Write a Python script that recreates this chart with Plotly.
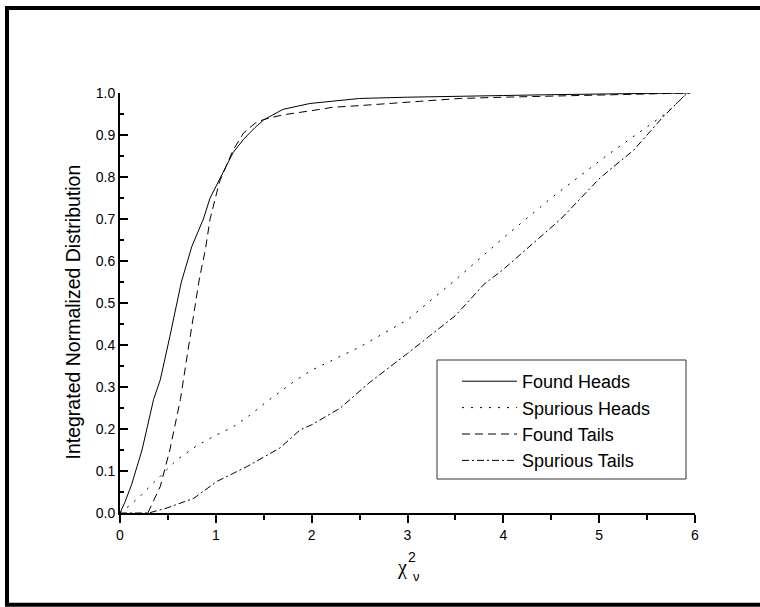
import plotly.graph_objects as go

# Integrated normalized distributions of reduced chi-square
found_heads_x = [0, 0.05, 0.12, 0.23, 0.35, 0.42, 0.52, 0.64, 0.75, 0.87, 0.94, 1.08, 1.18,
                 1.29, 1.41, 1.5, 1.7, 1.98, 2.2, 2.5, 3.0, 3.55, 4.0, 4.5, 5.0, 5.5, 5.95]
found_heads_y = [0, 0.025, 0.067, 0.15, 0.27, 0.317, 0.42, 0.55, 0.635, 0.70, 0.75, 0.815, 0.858,
                 0.89, 0.918, 0.936, 0.961, 0.975, 0.98, 0.987, 0.99, 0.993, 0.994, 0.996, 0.998, 0.999, 1.0]

spurious_heads_x = [0, 0.09, 0.21, 0.365, 0.59, 0.8, 1.0, 1.18, 1.35, 1.53, 1.84, 2.0, 2.5, 3.0,
                    3.5, 4.0, 4.5, 5.06, 5.43, 5.70, 5.92]
spurious_heads_y = [0, 0.016, 0.04, 0.075, 0.126, 0.16, 0.185, 0.205, 0.232, 0.265, 0.317, 0.34,
                    0.395, 0.46, 0.555, 0.655, 0.75, 0.848, 0.908, 0.952, 1.0]

found_tails_x = [0.29, 0.35, 0.42, 0.52, 0.63, 0.71, 0.83, 0.89, 0.94, 1.04, 1.18, 1.29, 1.41, 1.5,
                 1.7, 2.0, 2.22, 2.5, 2.92, 3.55, 4.0, 4.5, 5.0, 5.5, 5.95]
found_tails_y = [0.0, 0.03, 0.063, 0.15, 0.27, 0.388, 0.56, 0.626, 0.70, 0.79, 0.864, 0.905, 0.928,
                 0.937, 0.948, 0.958, 0.966, 0.97, 0.977, 0.987, 0.99, 0.993, 0.996, 0.998, 1.0]

spurious_tails_x = [0, 0.3, 0.49, 0.77, 1.01, 1.32, 1.67, 1.88, 2.0, 2.3, 2.6, 3.0, 3.5, 3.8, 4.0,
                    4.3, 4.6, 5.01, 5.36, 5.67, 5.92]
spurious_tails_y = [0, 0.0, 0.012, 0.035, 0.075, 0.11, 0.155, 0.198, 0.21, 0.25, 0.31, 0.38, 0.47,
                    0.545, 0.58, 0.64, 0.70, 0.798, 0.864, 0.944, 1.0]

x_ticks = [0, 1, 2, 3, 4, 5, 6]
y_ticks = [0.0, 0.1, 0.2, 0.3, 0.4, 0.5, 0.6, 0.7, 0.8, 0.9, 1.0]

FONT = "Liberation Sans, Arial, sans-serif"

series = [
    ("Found Heads", found_heads_x, found_heads_y, "solid"),
    ("Spurious Heads", spurious_heads_x, spurious_heads_y, "2px,7px"),
    ("Found Tails", found_tails_x, found_tails_y, "8px,5px"),
    ("Spurious Tails", spurious_tails_x, spurious_tails_y, "7px,3px,2px,3px"),
]

fig = go.Figure()
for name, xs, ys, dash in series:
    fig.add_trace(go.Scatter(x=xs, y=ys, mode="lines", name=name,
                             line=dict(color="black", width=1, dash=dash)))

# plot area in pixels: x 120..695, y 93..513
L, R, T, B = 120, 695, 93, 513
W, H = 760, 607


def px(xp):
    return (xp - L) / (R - L)


def py(yp):
    return (B - yp) / (B - T)


fig.update_layout(
    width=W, height=H,
    margin=dict(l=L, r=W - R, t=T, b=H - B),
    plot_bgcolor="white", paper_bgcolor="white",
    font=dict(family=FONT, color="black", size=14),
    showlegend=True,
    legend=dict(
        x=px(457), y=py(363), xanchor="left", yanchor="top",
        borderwidth=0, bgcolor="rgba(0,0,0,0)",
        font=dict(size=18, family=FONT), itemwidth=55,
        tracegroupgap=0,
    ),
    xaxis=dict(
        range=[0, 6], tickvals=x_ticks, showgrid=False, zeroline=False,
        showline=True, linecolor="black", linewidth=2,
        ticks="outside", ticklen=8, tickwidth=2, tickcolor="black",
        tickfont=dict(size=14),
        minor=dict(dtick=0.5, ticks="outside", ticklen=5, tickwidth=2, tickcolor="black"),
    ),
    yaxis=dict(
        range=[0, 1.0], tickvals=y_ticks, tickformat=".1f", showgrid=False, zeroline=False,
        showline=True, linecolor="black", linewidth=2,
        ticks="inside", ticklen=8, tickwidth=2, tickcolor="black",
        tickfont=dict(size=14),
        minor=dict(dtick=0.05, ticks="inside", ticklen=4, tickwidth=2, tickcolor="black"),
    ),
)

# legend frame
fig.add_shape(type="rect", xref="paper", yref="paper",
              x0=px(437), x1=px(686), y0=py(479), y1=py(360),
              line=dict(color="#333", width=1), fillcolor="white", layer="below")

# y-axis title
fig.add_annotation(text="Integrated Normalized Distribution", textangle=-90,
                   x=px(72.5), y=py(312), xref="paper", yref="paper",
                   xanchor="center", yanchor="middle",
                   showarrow=False, font=dict(size=19.5, family=FONT))

# x-axis title: chi with stacked superscript 2 and subscript nu
fig.add_annotation(text="χ", x=px(402), y=py(567), xref="paper", yref="paper",
                   xanchor="center", yanchor="middle", borderpad=0,
                   showarrow=False, font=dict(size=20, family="Liberation Serif, serif"))
fig.add_annotation(text="2", x=px(411.5), y=py(557), xref="paper", yref="paper",
                   xanchor="center", yanchor="middle", borderpad=0,
                   showarrow=False, font=dict(size=14, family=FONT))
fig.add_annotation(text="ν", x=px(416), y=py(576), xref="paper", yref="paper",
                   xanchor="center", yanchor="middle", borderpad=0,
                   showarrow=False, font=dict(size=13, family=FONT))

# outer frame
fig.add_shape(type="rect", xref="paper", yref="paper",
              x0=px(7), x1=px(780), y0=py(604.7), y1=py(8),
              line=dict(color="black", width=4), fillcolor="rgba(0,0,0,0)", layer="above")

fig.write_html("out.html")
